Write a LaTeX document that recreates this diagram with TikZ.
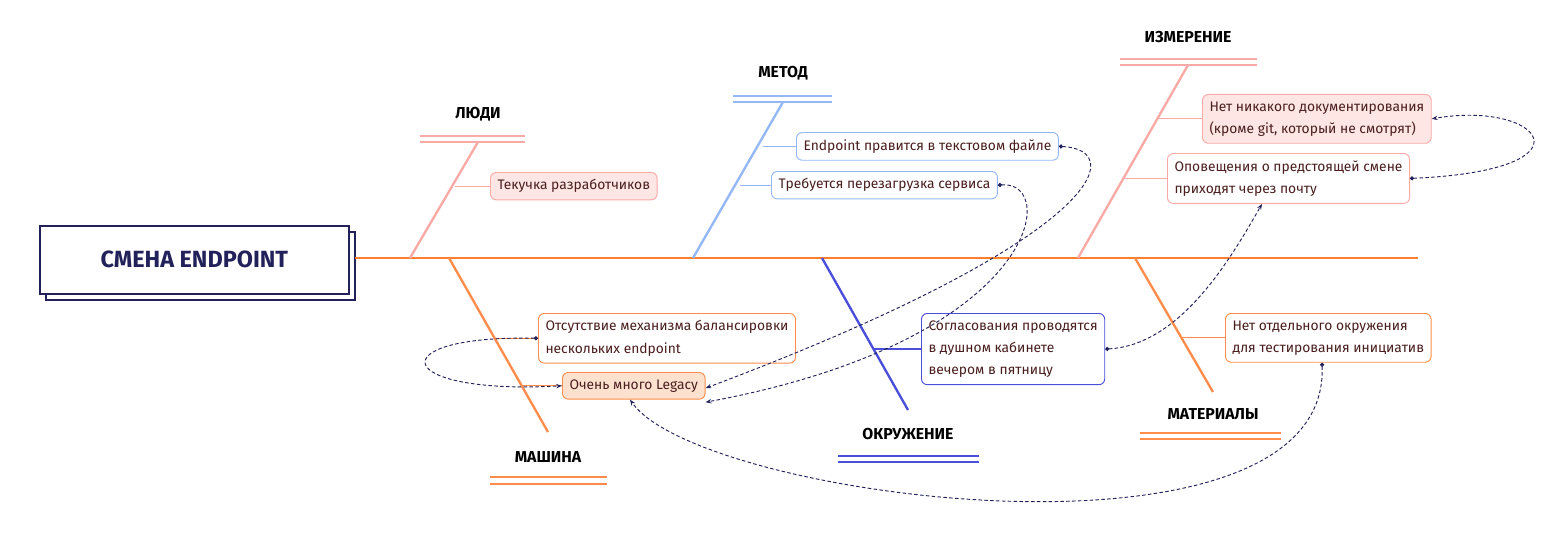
\documentclass[tikz,border=0pt]{standalone}
\usepackage{fontspec}
\setmainfont{Fira Sans}
\usetikzlibrary{arrows.meta}
\definecolor{navy}{HTML}{22215A}
\definecolor{spine}{HTML}{FF7F2E}
\definecolor{pinkl}{HTML}{F9AAA6}
\definecolor{pinkf}{HTML}{FDE6E4}
\definecolor{bluel}{HTML}{94B8F5}
\definecolor{indig}{HTML}{4A4ED8}
\definecolor{orl}{HTML}{FF8C4A}
\definecolor{orf}{HTML}{FDE1CF}
\definecolor{txt}{HTML}{4A1E1E}
\begin{document}
\begin{tikzpicture}[x=0.03cm,y=-0.03cm]
  \tikzset{cause/.style = {draw, rounded corners=5pt, fill=white, text=txt, align=left, anchor=north west,
      inner xsep=6pt, inner ysep=6pt, font=\fontsize{11.8}{19}\selectfont, line width=0.8pt}}
  \tikzset{head/.style = {font=\fontsize{13.5}{15}\selectfont\bfseries}}
  \tikzset{link/.style = {navy, dashed, dash pattern=on 3pt off 2pt, line width=0.8pt, {Circle[length=3.5pt]}-{Stealth[length=5pt]}}}
  \useasboundingbox (0,0) rectangle (1560,534);

  % head of the fish
  \draw[navy, line width=1.4pt, fill=white] (46,232) rectangle (355,300);
  \node[draw=navy, line width=1.4pt, fill=white, minimum width=309*0.03cm, minimum height=68*0.03cm,
        anchor=north west, font=\fontsize{20}{22}\selectfont\bfseries, text=navy] (effect) at (39,225) {СМЕНА ENDPOINT};
  \coordinate (tail) at (1418,258);
  \draw[spine, line width=2pt] (355,258) -- (tail);

  % upper bones
  \draw[pinkl, line width=2pt] (410,258) -- (478,142);
  \draw[pinkl, line width=1pt] (420,136) -- (525,136) (420,142) -- (525,142);
  \node[head] (people) at (478,114) {ЛЮДИ};
  \draw[bluel, line width=2pt] (693,258) -- (783,102);
  \draw[bluel, line width=1pt] (733,96) -- (832,96) (733,102) -- (832,102);
  \node[head] (method) at (783,73) {МЕТОД};
  \draw[pinkl, line width=2pt] (1078,258) -- (1188,65);
  \draw[pinkl, line width=1pt] (1120,59) -- (1257,59) (1120,65) -- (1257,65);
  \node[head] (measure) at (1188,37) {ИЗМЕРЕНИЕ};

  % lower bones
  \draw[orl, line width=2pt] (449,258) -- (548,432);
  \draw[orl, line width=1pt] (490,477) -- (607,477) (490,484) -- (607,484);
  \node[head] (machine) at (548,457) {МАШИНА};
  \draw[indig, line width=2pt] (822,258) -- (908,410);
  \draw[indig, line width=1pt] (838,456) -- (979,456) (838,462) -- (979,462);
  \node[head] (env) at (908,434) {ОКРУЖЕНИЕ};
  \draw[orl, line width=2pt] (1135,258) -- (1213,392);
  \draw[orl, line width=1pt] (1140,433) -- (1281,433) (1140,439) -- (1281,439);
  \node[head] (material) at (1213,414) {МАТЕРИАЛЫ};

  % causes
  \node[cause, draw=pinkl, fill=pinkf] (churn) at (490,172) {Текучка разработчиков};
  \node[cause, draw=bluel] (textfile) at (796,132) {Endpoint правится в текстовом файле};
  \node[cause, draw=bluel] (restart) at (771,171) {Требуется перезагрузка сервиса};
  \node[cause, draw=pinkl, fill=pinkf] (nodocs) at (1202,94) {Нет никакого документирования\\(кроме git, который не смотрят)};
  \node[cause, draw=pinkl] (mail) at (1167,153) {Оповещения о предстоящей смене\\приходят через почту};
  \node[cause, draw=orl] (balance) at (538,313) {Отсутствие механизма балансировки\\нескольких endpoint};
  \node[cause, draw=orl, fill=orf] (legacy) at (562,372) {Очень много Legacy};
  \node[cause, draw=indig] (approve) at (921,313) {Согласования проводятся\\в душном кабинете\\вечером в пятницу};
  \node[cause, draw=orl] (testenv) at (1225,313) {Нет отдельного окружения\\для тестирования инициатив};

  % ribs
  \draw[pinkl, line width=1pt] (churn.west) -- ++(-35,0);
  \draw[bluel, line width=1pt] (textfile.west) -- ++(-33,0);
  \draw[bluel, line width=1pt] (restart.west) -- ++(-31,0);
  \draw[pinkl, line width=1pt] (nodocs.west) -- ++(-44,0);
  \draw[pinkl, line width=1pt] (mail.west) -- ++(-43,0);
  \draw[orl, line width=1pt] (balance.west) -- ++(-43,0);
  \draw[orl, line width=1pt] (legacy.west) -- ++(-39,0);
  \draw[indig, line width=1pt] (approve.west) -- ++(-48,0);
  \draw[orl, line width=1pt] (testenv.west) -- ++(-44,0);

  % links between causes
  \draw[link] (textfile.east) .. controls (1130,150) and (1100,240) .. ([yshift=-2pt]legacy.east);
  \draw[link] (restart.east) .. controls (1060,180) and (1040,340) .. ([yshift=-14pt]legacy.east);
  \draw[link] (mail.east) .. controls (1600,170) and (1540,100) .. (nodocs.east);
  \draw[link] (approve.east) .. controls (1180,345) and (1230,260) .. (mail.south -| 1262,0);
  \draw[link] (balance.west) .. controls (380,335) and (390,395) .. (legacy.west);
  \draw[link] (testenv.south -| 1322,0) .. controls (1330,580) and (700,500) .. (legacy.south -| 630,0);
\end{tikzpicture}
\end{document}
